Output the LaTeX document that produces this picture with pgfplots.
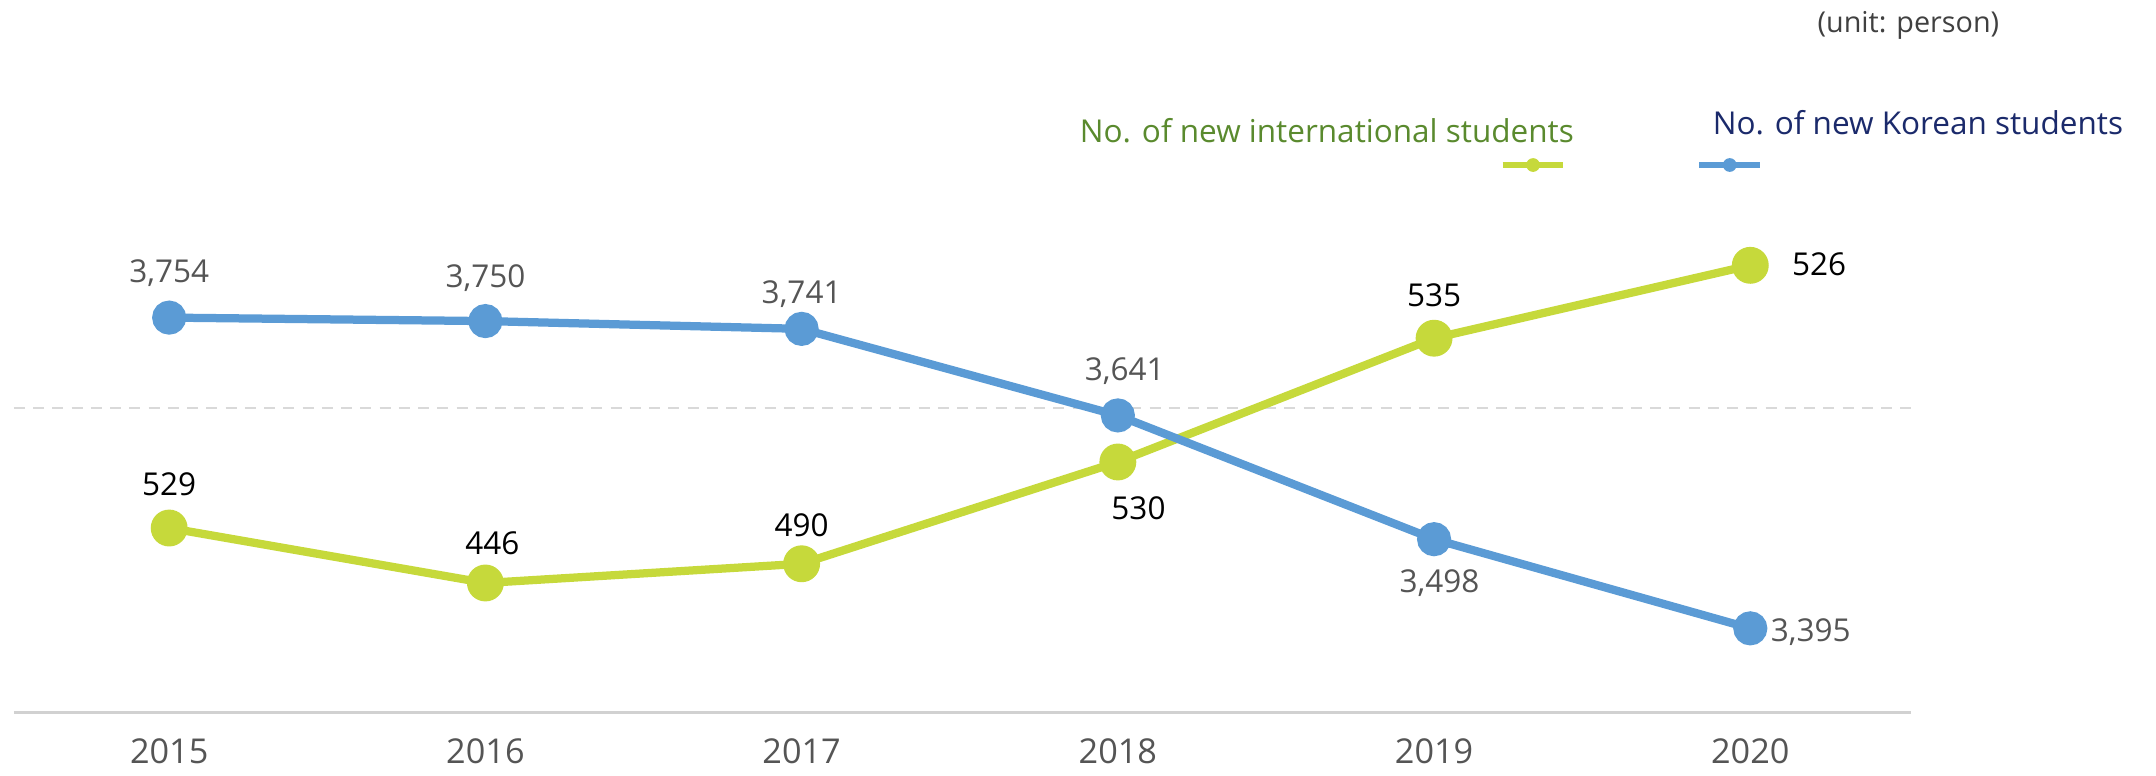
\documentclass[border=0pt]{standalone}
\usepackage{pgfplots}
\pgfplotsset{compat=1.18}
\usepackage{pgfplotstable}
\usepackage{fontspec}
\setmainfont{Open Sans}
\definecolor{kblue}{HTML}{5B9BD5}
\definecolor{igreen}{HTML}{C6D93B}
\definecolor{leggreen}{HTML}{5A8A2E}
\definecolor{legblue}{HTML}{1B2A6B}
\definecolor{lblgray}{HTML}{555555}
\definecolor{tickgray}{HTML}{555555}

% x  y(plotted position)  label  dx dy (label offset, bp)
\pgfplotstableread{
x y label dx dy
2015 3754 3,754 0 16
2016 3750 3,750 0 15.5
2017 3741 3,741 0 12.5
2018 3641 3,641 2.5 16
2019 3498 3,498 2 -16
2020 3395 3,395 22 -1.5
}\korean

\pgfplotstableread{
x y label dx dy
2015 3510.9 529 0 16
2016 3447.4 446 2.5 14.5
2017 3469.6 490 0 14
2018 3587.2 530 7.5 -17
2019 3730.2 535 0 15.5
2020 3814.4 526 25 0.5
}\intl

\begin{document}
\begin{tikzpicture}
\begin{axis}[
  scale only axis,
  width=690bp, height=184bp,
  xmin=2014.509, xmax=2020.509,
  ymin=3298.1, ymax=3882.67,
  clip=false,
  axis x line*=bottom,
  axis y line*=left,
  y axis line style={draw=none},
  x axis line style={draw=black!18, line width=1.2bp},
  xtick={2015,2016,2017,2018,2019,2020},
  xticklabels={2015,2016,2017,2018,2019,2020},
  xtick style={draw=none},
  xticklabel style={font=\fontsize{12.5}{14}\selectfont, text=tickgray, yshift=-6bp},
  ytick={3649.2},
  yticklabels={},
  ytick style={draw=none},
  ymajorgrids,
  grid style={draw=black!15, line width=0.8bp, dash pattern=on 4bp off 3bp},
  /pgf/number format/assume math mode=true,
]
\addplot[igreen, line width=3bp, mark=*, mark size=5.2bp,
  mark options={fill=igreen, draw=igreen, solid},
  nodes near coords, point meta=explicit symbolic,
  visualization depends on={\thisrow{dx}\as\dx},
  visualization depends on={\thisrow{dy}\as\dy},
  every node near coord/.append style={anchor=center, xshift=\dx bp, yshift=\dy bp,
     font=\fontsize{11.5}{13}\selectfont, text=black, inner sep=0pt}]
  table[x=x, y=y, meta=label]{\intl};
\addplot[kblue, line width=3bp, mark=*, mark size=4.7bp,
  mark options={fill=kblue, draw=kblue, solid},
  nodes near coords, point meta=explicit symbolic,
  visualization depends on={\thisrow{dx}\as\dx},
  visualization depends on={\thisrow{dy}\as\dy},
  every node near coord/.append style={anchor=center, xshift=\dx bp, yshift=\dy bp,
     font=\fontsize{11.5}{13}\selectfont, text=lblgray, inner sep=0pt}]
  table[x=x, y=y, meta=label]{\korean};

% legend
\draw[igreen, line width=2.5bp] (axis cs:2019.217,3930.3) -- (axis cs:2019.409,3930.3);
\fill[igreen] (axis cs:2019.313,3930.3) circle (2.5bp);
\draw[kblue, line width=2.5bp] (axis cs:2019.839,3930.3) -- (axis cs:2020.031,3930.3);
\fill[kblue] (axis cs:2019.935,3930.3) circle (2.5bp);
\node[text=leggreen, font=\fontsize{11.5}{13}\selectfont] at (axis cs:2018.661,3970) {No. of new international students};
\node[text=legblue, font=\fontsize{11.5}{13}\selectfont] at (axis cs:2020.530,3979.6) {No. of new Korean students};
\node[text=black!75, font=\fontsize{10.5}{12}\selectfont] at (axis cs:2020.5,4092) {(unit: person)};

\coordinate (bbA) at (axis cs:2014.465,4120.96);
\coordinate (bbB) at (axis cs:2021.283,3225.0);
\end{axis}
\pgfresetboundingbox
\path (bbA) rectangle (bbB);
\end{tikzpicture}
\end{document}
